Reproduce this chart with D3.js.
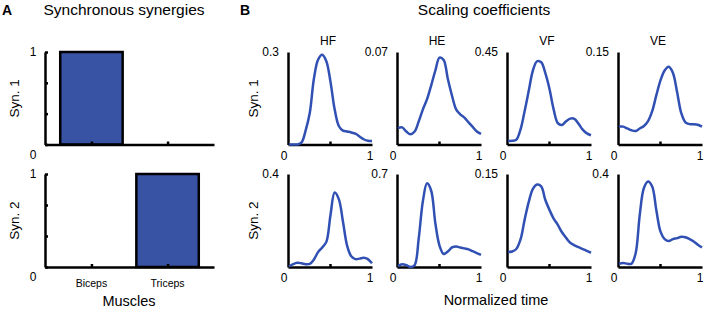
<!DOCTYPE html>
<html>
<head>
<meta charset="utf-8">
<script src="https://d3js.org/d3.v7.min.js"></script>
<style>
  body { margin: 0; background: #fff; }
  svg { display: block; font-family: "Liberation Sans", Arial, sans-serif; }
  .axis path, .axis line { stroke: #000; stroke-width: 2.5px; }
  .axis text { display: none; }
  .lbl { font-size: 12px; fill: #000; }
</style>
</head>
<body>
<script>
// data
const muscles = ["Biceps", "Triceps"];
const syn1Weights = [1, 0];
const syn2Weights = [0, 1];

const directions = ["HF", "HE", "VF", "VE"];
const syn1Max = [0.3, 0.07, 0.45, 0.15];
const syn2Max = [0.4, 0.7, 0.15, 0.4];

const timePts = [0, 0.05, 0.1, 0.15, 0.2, 0.25, 0.3, 0.35, 0.4, 0.45, 0.5,
                 0.55, 0.6, 0.65, 0.7, 0.75, 0.8, 0.85, 0.9, 0.95, 1];

const syn1HF = [0, 0, 0, 0.006, 0.045, 0.102, 0.213, 0.275, 0.291, 0.27, 0.203,
                0.114, 0.06, 0.045, 0.042, 0.039, 0.035, 0.026, 0.017, 0.012, 0.011];
const syn1HE = [0.0124, 0.013, 0.0098, 0.0077, 0.0098, 0.0175, 0.0266, 0.0343, 0.0448, 0.056, 0.0658,
                0.064, 0.0497, 0.0371, 0.0266, 0.0228, 0.0203, 0.0168, 0.0133, 0.0098, 0.008];
const syn1VF = [0.018, 0.018, 0.023, 0.072, 0.162, 0.261, 0.36, 0.405, 0.40, 0.347, 0.27,
                0.171, 0.104, 0.095, 0.113, 0.126, 0.125, 0.101, 0.072, 0.054, 0.045];
const syn1VE = [0.029, 0.029, 0.026, 0.023, 0.022, 0.026, 0.03, 0.038, 0.054, 0.08, 0.104,
                0.12, 0.126, 0.116, 0.085, 0.051, 0.036, 0.033, 0.033, 0.032, 0.029];

const syn2HF = [0.002, 0.012, 0.018, 0.016, 0.012, 0.013, 0.032, 0.064, 0.084, 0.108, 0.224,
                0.32, 0.292, 0.196, 0.092, 0.046, 0.034, 0.036, 0.04, 0.034, 0.016];
const syn2HE = [0.007, 0.021, 0.014, 0, 0.014, 0.217, 0.497, 0.63, 0.574, 0.329, 0.161,
                0.098, 0.116, 0.147, 0.154, 0.147, 0.14, 0.133, 0.119, 0.105, 0.091];
const syn2VF = [0.024, 0.025, 0.029, 0.044, 0.076, 0.105, 0.126, 0.133, 0.13, 0.108, 0.092,
                0.078, 0.068, 0.056, 0.047, 0.039, 0.035, 0.032, 0.029, 0.026, 0.023];
const syn2VE = [0.014, 0.017, 0.014, 0.014, 0.058, 0.224, 0.34, 0.368, 0.346, 0.244, 0.152,
                0.12, 0.112, 0.12, 0.124, 0.13, 0.128, 0.12, 0.11, 0.096, 0.084];

const syn1Curves = [syn1HF, syn1HE, syn1VF, syn1VE];
const syn2Curves = [syn2HF, syn2HE, syn2VF, syn2VE];

const barColor = "#3953a4";
const lineColor = "#3150b3";

const W = 706, H = 314;
const rows = [{top: 52, bottom: 144.5}, {top: 174, bottom: 267}];

const svg = d3.select("body").append("svg")
  .attr("width", W)
  .attr("height", H);

// panel letters + titles
svg.append("text").attr("x", 2).attr("y", 15)
  .style("font-size", "14px").style("font-weight", "bold").text("A");
svg.append("text").attr("x", 240).attr("y", 15)
  .style("font-size", "14px").style("font-weight", "bold").text("B");
svg.append("text").attr("x", 124).attr("y", 15).attr("text-anchor", "middle")
  .style("font-size", "15.5px").text("Synchronous synergies");
svg.append("text").attr("x", 484).attr("y", 15).attr("text-anchor", "middle")
  .style("font-size", "15.5px").text("Scaling coefficients");

// ---- panel A: bar charts
const xBand = d3.scaleBand()
  .domain(muscles)
  .range([45, 214])
  .paddingInner(0.18)
  .paddingOuter(0.2);

[syn1Weights, syn2Weights].forEach((w, i) => {
  const r = rows[i];
  const y = d3.scaleLinear().domain([0, 1]).range([r.bottom, r.top]);
  const g = svg.append("g");

  g.selectAll("rect")
    .data(muscles.map((m, j) => ({m: m, v: w[j]})).filter(d => d.v > 0))
    .enter().append("rect")
    .attr("x", d => xBand(d.m))
    .attr("y", d => y(d.v))
    .attr("width", xBand.bandwidth())
    .attr("height", d => y(0) - y(d.v))
    .attr("fill", barColor)
    .attr("stroke", "#000")
    .attr("stroke-width", 2.5);

  g.append("g").attr("class", "axis")
    .attr("transform", `translate(45,0)`)
    .call(d3.axisLeft(y).tickValues([0, 1 / 3, 2 / 3, 1]).tickSize(-3).tickSizeOuter(0));
  g.append("g").attr("class", "axis")
    .attr("transform", `translate(0,${r.bottom})`)
    .call(d3.axisBottom(d3.scaleLinear().domain([45, 214]).range([45, 214]))
      .tickValues(muscles.map(m => xBand(m) + xBand.bandwidth() / 2))
      .tickSize(-3).tickSizeOuter(0));

  g.append("text").attr("class", "lbl").attr("x", 33).attr("y", y(1) + 4)
    .attr("text-anchor", "middle").text("1");
  g.append("text").attr("class", "lbl").attr("x", 33).attr("y", r.bottom + 14)
    .attr("text-anchor", "middle").text("0");

  svg.append("text")
    .attr("transform", `translate(19,${(r.top + r.bottom) / 2}) rotate(-90)`)
    .attr("text-anchor", "middle")
    .style("font-size", "13.5px")
    .text("Syn. " + (i + 1));
});

svg.selectAll(".musc")
  .data(muscles)
  .enter().append("text")
  .attr("class", "lbl")
  .style("font-size", "10.5px")
  .attr("x", d => xBand(d) + xBand.bandwidth() / 2)
  .attr("y", 287)
  .attr("text-anchor", "middle")
  .text(d => d);

svg.append("text").attr("x", 129).attr("y", 306).attr("text-anchor", "middle")
  .style("font-size", "14.5px").text("Muscles");

// ---- panel B: scaling coefficient curves
const lefts = [288, 397, 507, 618];
const pw = 84;

[syn1Curves, syn2Curves].forEach((curves, i) => {
  const r = rows[i];
  const maxes = i === 0 ? syn1Max : syn2Max;

  curves.forEach((vals, k) => {
    const x0 = lefts[k];
    const x = d3.scaleLinear().domain([0, 1]).range([x0 + 1, x0 + pw]);
    const y = d3.scaleLinear().domain([0, maxes[k]]).range([r.bottom, r.top]);
    const g = svg.append("g");

    g.append("g").attr("class", "axis")
      .attr("transform", `translate(${x0},0)`)
      .call(d3.axisLeft(y).tickValues([]).tickSizeOuter(0));
    g.append("g").attr("class", "axis")
      .attr("transform", `translate(0,${r.bottom})`)
      .call(d3.axisBottom(d3.scaleLinear().domain([0, 1]).range([x0, x0 + pw]))
        .tickValues([0.5]).tickSize(-3).tickSizeOuter(0));

    const line = d3.line()
      .x((d, j) => x(timePts[j]))
      .y(d => y(d))
      .curve(d3.curveCatmullRom.alpha(0.5));

    g.append("path")
      .datum(vals)
      .attr("d", line)
      .attr("fill", "none")
      .attr("stroke", lineColor)
      .attr("stroke-width", 2.5)
      .attr("stroke-linejoin", "round");

    g.append("text").attr("class", "lbl").attr("x", x0 - 9).attr("y", r.top + 4)
      .attr("text-anchor", "end").text(maxes[k]);
    g.append("text").attr("class", "lbl").attr("x", x0 - 4).attr("y", r.bottom + 15)
      .attr("text-anchor", "middle").text("0");
    g.append("text").attr("class", "lbl").attr("x", x0 + pw - 2).attr("y", r.bottom + 15)
      .attr("text-anchor", "middle").text("1");

    if (i === 0) {
      g.append("text").attr("x", x0 + pw / 2 - 2).attr("y", 45)
        .attr("text-anchor", "middle").style("font-size", "12px")
        .text(directions[k]);
    }
  });

  svg.append("text")
    .attr("transform", `translate(258,${(r.top + r.bottom) / 2}) rotate(-90)`)
    .attr("text-anchor", "middle")
    .style("font-size", "13.5px")
    .text("Syn. " + (i + 1));
});

svg.append("text").attr("x", 496).attr("y", 305).attr("text-anchor", "middle")
  .style("font-size", "14.5px").text("Normalized time");
</script>
</body>
</html>
